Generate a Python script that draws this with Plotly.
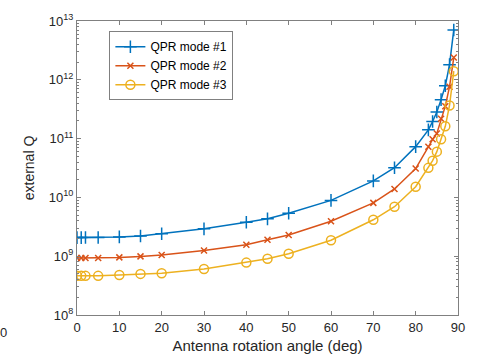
import plotly.graph_objects as go

angles = [0, 1, 2, 5, 10, 15, 20, 30, 40, 45, 50, 60, 70, 75, 80, 83, 84, 85, 86, 87, 88, 89]

q_mode1 = [2.07e9, 2.07e9, 2.08e9, 2.08e9, 2.13e9, 2.21e9, 2.41e9, 2.92e9, 3.77e9, 4.32e9, 5.37e9,
           8.9e9, 1.91e10, 3.2e10, 7.3e10, 1.41e11, 1.95e11, 2.83e11, 4.6e11, 7.9e11, 1.81e12, 7.05e12]
q_mode2 = [9.3e8, 9.3e8, 9.3e8, 9.3e8, 9.55e8, 9.93e8, 1.05e9, 1.25e9, 1.57e9, 1.9e9, 2.3e9,
           3.92e9, 8.07e9, 1.39e10, 3.1e10, 7.26e10, 9.73e10, 1.22e11, 2.17e11, 3.56e11, 7.62e11, 2.39e12]
q_mode3 = [4.63e8, 4.63e8, 4.63e8, 4.63e8, 4.8e8, 5.0e8, 5.12e8, 6.04e8, 7.78e8, 9.06e8, 1.1e9,
           1.87e9, 4.16e9, 6.93e9, 1.52e10, 3.18e10, 4.21e10, 6.0e10, 9.73e10, 1.62e11, 3.66e11, 1.4e12]

names = ["QPR mode #1", "QPR mode #2", "QPR mode #3"]
colors = ["#0072BD", "#D95319", "#EDB120"]
symbols = ["cross-thin-open", "x-thin-open", "circle-open"]
sizes = [9, 6, 9]

ytick_vals = [1e8, 1e9, 1e10, 1e11, 1e12, 1e13]
ytick_text = ["10<sup>8</sup>", "10<sup>9</sup>", "10<sup>10</sup>", "10<sup>11</sup>",
              "10<sup>12</sup>", "10<sup>13</sup>"]
xtick_vals = [0, 10, 20, 30, 40, 50, 60, 70, 80, 90]

fig = go.Figure()
for ys, n, c, s, sz in zip([q_mode1, q_mode2, q_mode3], names, colors, symbols, sizes):
    fig.add_trace(go.Scatter(
        x=angles, y=ys, name=n, mode="lines+markers",
        line=dict(color=c, width=1.5),
        marker=dict(symbol=s, size=sz, color=c, line=dict(color=c, width=1.5)),
    ))

axis_common = dict(
    showgrid=False, zeroline=False, showline=True, linecolor="#808080", linewidth=1,
    mirror="ticks", ticks="inside", tickcolor="#808080", ticklen=4,
    tickfont=dict(family="Liberation Sans, Arial", size=13, color="#262626"),
)

fig.update_xaxes(range=[0, 90], tickvals=xtick_vals,
                 title=dict(text="Antenna rotation angle (deg)",
                            font=dict(family="Liberation Sans, Arial", size=15, color="#262626"),
                            standoff=6),
                 **axis_common)
fig.update_yaxes(type="log", range=[8, 13], tickvals=ytick_vals, ticktext=ytick_text,
                 minor=dict(ticks="inside", ticklen=2, tickcolor="#808080",
                            tickvals=[m * 10 ** e for e in range(8, 13) for m in range(2, 10)]),
                 title=dict(text="external Q",
                            font=dict(family="Liberation Sans, Arial", size=14, color="#262626"),
                            standoff=10),
                 **axis_common)

fig.update_layout(
    width=477, height=363,
    margin=dict(l=77, r=13, t=17, b=43),
    plot_bgcolor="white", paper_bgcolor="white",
    showlegend=True,
    legend=dict(x=0.085, y=0.965, xanchor="left", yanchor="top",
                bgcolor="white", bordercolor="#808080", borderwidth=1,
                font=dict(family="Liberation Sans, Arial", size=12, color="#000000"),
                tracegroupgap=0, itemwidth=30),
    annotations=[dict(text="0", xref="paper", yref="paper", x=-0.178, y=-0.06,
                      xanchor="right", yanchor="middle", showarrow=False,
                      font=dict(family="Liberation Sans, Arial", size=13, color="#262626"))],
)

fig.write_html("out.html")
